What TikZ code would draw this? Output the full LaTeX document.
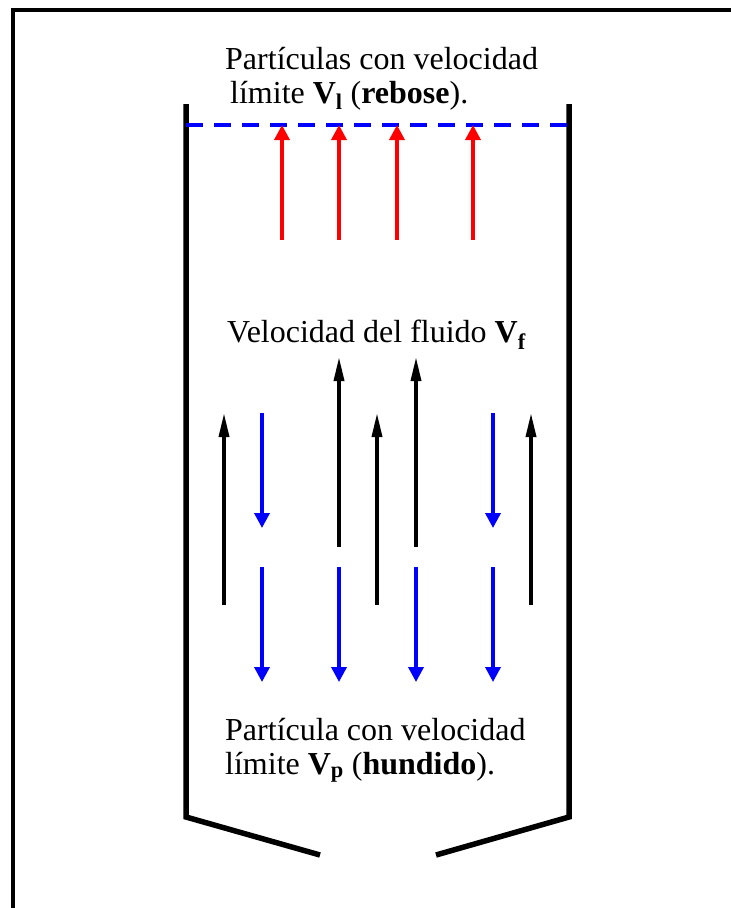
\documentclass[tikz,border=0pt]{standalone}
\usepackage{fontspec}
\setmainfont{Liberation Serif}
\usetikzlibrary{arrows.meta}
\begin{document}
\begin{tikzpicture}[x=1pt,y=-1pt,
  txt/.style={inner sep=0pt,font=\fontsize{32}{34}\selectfont},
  wall/.style={line width=5.5pt},
  uparrow/.style={line width=3.5pt,-{Triangle[length=24pt,width=10pt]}},
  redarrow/.style={red,line width=3.5pt,-{Triangle[length=15pt,width=15pt]}},
  bluearrow/.style={blue,line width=3.5pt,-{Triangle[length=15pt,width=15pt]}}]
\clip (0,0) rectangle (731,908);
% frame, cut by the page edge
\draw[line width=4pt] (13,10) rectangle (760,940);
% vessel
\draw[wall] (320,855) -- (186,817) -- (186,104);
\draw[wall] (436,855) -- (569,817) -- (569,104);
\draw[blue, line width=4pt, dash pattern=on 17pt off 11pt] (186,125) -- (569,125);
% overflow particles
\foreach \x in {282,339,397,473} \draw[redarrow] (\x,240) -- (\x,125);
% fluid
\foreach \x in {224,377,531} \draw[uparrow] (\x,605) -- (\x,413);
\foreach \x in {339,416} \draw[uparrow] (\x,547) -- (\x,357);
% settling particles
\foreach \x in {262,493} \draw[bluearrow] (\x,413) -- (\x,528);
\foreach \x in {262,339,416,493} \draw[bluearrow] (\x,567) -- (\x,682);
\draw (225,69) node[txt,anchor=base west] (rebose1) {Partículas con velocidad};
\draw (230,103) node[txt,anchor=base west] (rebose2) {límite \textbf{V}\textsubscript{\textbf{l}} (\textbf{rebose}).};
\draw (227,342) node[txt,anchor=base west] (fluido) {Velocidad del fluido \textbf{V}\textsubscript{\textbf{f}}};
\draw (225,740) node[txt,anchor=base west] (hundido1) {Partícula con velocidad};
\draw (225,774) node[txt,anchor=base west] (hundido2) {límite \textbf{V}\textsubscript{\textbf{p}} (\textbf{hundido}).};
\end{tikzpicture}
\end{document}
